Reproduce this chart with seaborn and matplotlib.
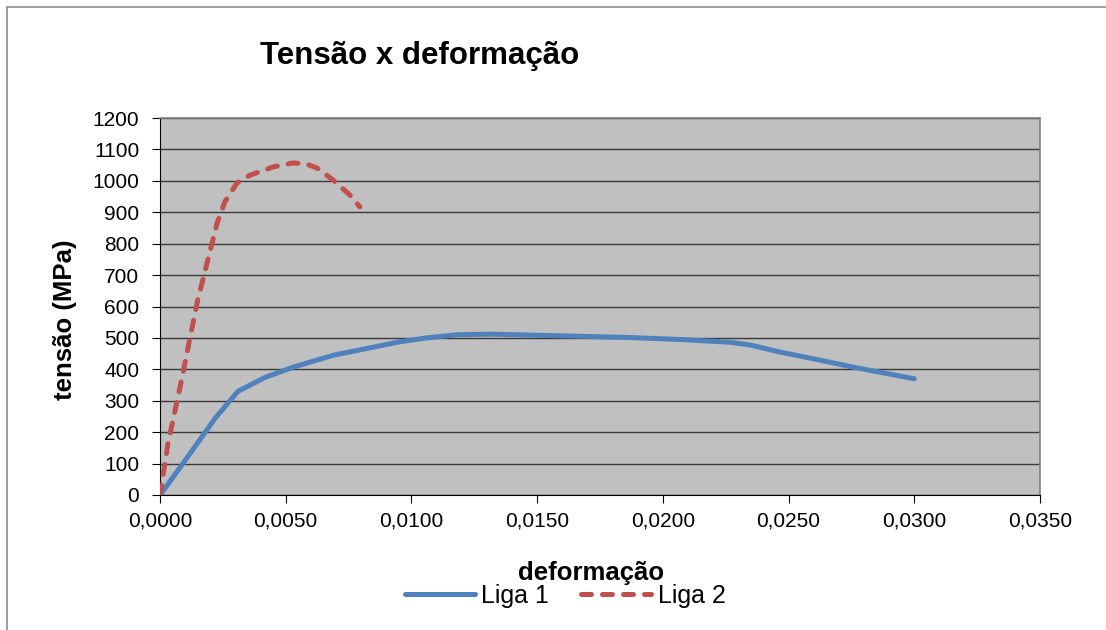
import matplotlib
matplotlib.use("Agg")
import matplotlib.pyplot as plt
from matplotlib.ticker import FuncFormatter, MultipleLocator
from matplotlib.lines import Line2D
import seaborn as sns
import pandas as pd

# ---- data ----
liga1_def = [0.0, 0.0010, 0.0022, 0.0031, 0.0042, 0.0053, 0.0069, 0.0082, 0.0095, 0.0105,
             0.0118, 0.0131, 0.0158, 0.0184, 0.0207, 0.0227, 0.0235, 0.0246, 0.0262, 0.0275, 0.0300]
liga1_ten = [0, 110, 245, 330, 375, 407, 445, 466, 487, 499,
             510, 512, 507, 502, 495, 486, 477, 456, 430, 408, 370]

liga2_def = [0.0, 0.00032, 0.0008, 0.0012, 0.0015, 0.00187, 0.00227, 0.00258, 0.00306,
             0.00358, 0.00449, 0.00529, 0.00584, 0.00624, 0.00688, 0.00755, 0.00795]
liga2_ten = [0, 165, 344, 503, 620, 738, 865, 933, 993,
             1018, 1044, 1057, 1053, 1041, 1003, 955, 917]

series_names = ["Liga 1", "Liga 2"]
title = "Tensão x deformação"
xlabel = "deformação"
ylabel = "tensão (MPa)"

sns.set_style("white")
plt.rcParams["font.family"] = ["Liberation Sans", "DejaVu Sans"]
plt.rcParams["text.color"] = "#000000"

fig = plt.figure(figsize=(11.06, 6.30), dpi=100)
ax = fig.add_axes([160/1106, 1-495/630, 880/1106, 377/630])
ax.set_facecolor("#C0C0C0")

c1 = "#4F81BD"
c2 = "#C0504D"
dash = (2.0, 2.2)

df1 = pd.DataFrame({"x": liga1_def, "y": liga1_ten})
df2 = pd.DataFrame({"x": liga2_def, "y": liga2_ten})
sns.lineplot(data=df1, x="x", y="y", ax=ax, sort=False, color=c1, linewidth=3.6,
             solid_capstyle="round", solid_joinstyle="round", zorder=3)
sns.lineplot(data=df2, x="x", y="y", ax=ax, sort=False, color=c2, linewidth=3.6, zorder=3)
l2 = ax.lines[-1]
l2.set_dashes(dash)
l2.set_dash_capstyle("round")
l2.set_dash_joinstyle("round")

ax.set_xlim(0, 0.035)
ax.set_ylim(0, 1200)
ax.xaxis.set_major_locator(MultipleLocator(0.005))
ax.yaxis.set_major_locator(MultipleLocator(100))
ax.xaxis.set_major_formatter(FuncFormatter(lambda v, p: f"{v:.4f}".replace(".", ",")))
ax.yaxis.set_major_formatter(FuncFormatter(lambda v, p: f"{int(round(v))}"))
ax.yaxis.grid(True, color="#3A3A3A", linewidth=1.0, zorder=1)
ax.set_axisbelow(True)
ax.set_xlabel("")
ax.set_ylabel("")
for s in ax.spines.values():
    s.set_color("#808080")
    s.set_linewidth(1.2)
ax.spines["left"].set_color("#000000")
ax.spines["bottom"].set_color("#000000")
ax.spines["left"].set_linewidth(0.8)
ax.spines["bottom"].set_linewidth(0.8)
ax.tick_params(axis="both", direction="out", length=6, width=0.8, color="#000000",
               labelsize=15, labelcolor="#000000", left=True, bottom=True)
ax.tick_params(axis="y", pad=9)
ax.tick_params(axis="x", pad=6)

fig.text(420/1106, 1-56/630, title, ha="center", va="center", fontsize=22.5,
         fontweight="bold", color="#000000")
fig.text(591/1106, 1-573/630, xlabel, ha="center", va="center", fontsize=18.5,
         fontweight="bold", color="#000000")
fig.text(65/1106, 1-320/630, ylabel, ha="center", va="center", fontsize=18.5,
         fontweight="bold", rotation=90, color="#000000")

h1 = Line2D([], [], color=c1, linewidth=3.6, solid_capstyle="round")
h2 = Line2D([], [], color=c2, linewidth=3.6, dashes=dash, dash_capstyle="round")
leg = fig.legend([h1, h2], series_names, loc="center", bbox_to_anchor=(565/1106, 1-596/630),
                 ncol=2, frameon=False, fontsize=18, handlelength=2.8, handletextpad=0.25,
                 columnspacing=1.3, borderaxespad=0)
for t in leg.get_texts():
    t.set_color("#000000")

# outer chart frame (left and top edges)
fig.add_artist(Line2D([7/1106, 7/1106], [0, 1-7/630], transform=fig.transFigure,
                      color="#8C8C8C", linewidth=1.2))
fig.add_artist(Line2D([7/1106, 1], [1-7/630, 1-7/630], transform=fig.transFigure,
                      color="#8C8C8C", linewidth=1.2))

fig.savefig("out.png", dpi=100, facecolor="white")
